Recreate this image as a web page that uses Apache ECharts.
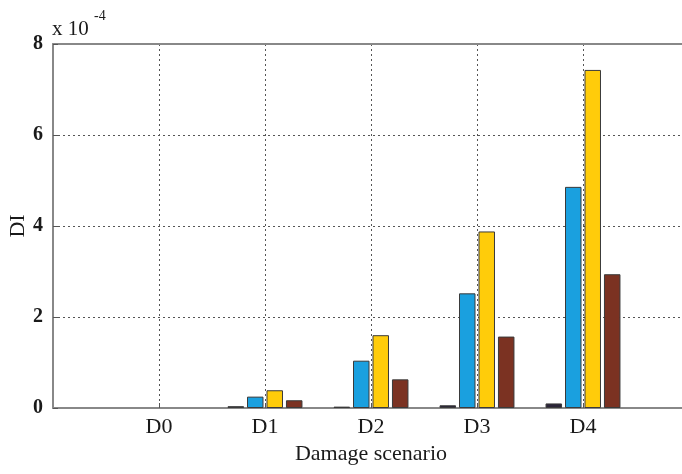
<!DOCTYPE html>
<html>
<head>
<meta charset="utf-8">
<script src="https://cdn.jsdelivr.net/npm/echarts@6/dist/echarts.min.js"></script>
<style>
  html, body { margin: 0; padding: 0; background: #fff; }
  #chart { width: 682px; height: 474px; }
</style>
</head>
<body>
<div id="chart"></div>
<script>
// Damage index per scenario, in units of 1e-4
const categories = ['D0', 'D1', 'D2', 'D3', 'D4'];
const seriesA = [0, 0.04, 0.03, 0.06, 0.10];
const seriesB = [0, 0.25, 1.04, 2.52, 4.86];
const seriesC = [0, 0.39, 1.60, 3.88, 7.43];
const seriesD = [0, 0.17, 0.63, 1.57, 2.94];
const yTicks = [0, 2, 4, 6, 8];

const serif = 'Liberation Serif, Times New Roman, serif';

// pad the axis with an empty slot on each side so the limits sit one step out
const axisCats = [''].concat(categories, ['']);
const inner = (i) => i > 0 && i < axisCats.length - 1;

const colors = ['#2a2438', '#1aa0df', '#ffcc0a', '#7b3222'];
const values = [seriesA, seriesB, seriesC, seriesD];

// zero-height bars get no outline so nothing shows on the baseline
const toData = (arr) => [null].concat(arr.map(v => (
  v === 0 ? { value: v, itemStyle: { borderWidth: 0 } } : v
)), [null]);

const gridLine = { show: true, lineStyle: { color: '#555', type: [2, 3], width: 1 } };

const chart = echarts.init(document.getElementById('chart'), null, { renderer: 'canvas' });
chart.setOption({
  animation: false,
  backgroundColor: '#fff',
  grid: { left: 53, top: 44, height: 364, width: 636, containLabel: false, outerBoundsMode: 'none' },
  xAxis: [{
    type: 'category',
    data: axisCats,
    boundaryGap: false,
    axisLine: { show: true, lineStyle: { color: '#888', width: 2 } },
    axisTick: { show: true, inside: true, length: 5, lineStyle: { color: '#555' }, interval: inner },
    axisLabel: { color: '#1a1a1a', fontFamily: serif, fontSize: 22, margin: 8 },
    splitLine: Object.assign({ interval: inner }, gridLine),
    name: 'Damage scenario',
    nameLocation: 'middle',
    nameGap: 34,
    nameTextStyle: { color: '#1a1a1a', fontFamily: serif, fontSize: 22 }
  }, {
    type: 'category',
    position: 'top',
    data: axisCats,
    boundaryGap: false,
    axisLine: { show: true, lineStyle: { color: '#888', width: 2 } },
    axisTick: { show: false },
    axisLabel: { show: false },
    splitLine: { show: false }
  }],
  yAxis: {
    type: 'value',
    min: yTicks[0],
    max: yTicks[yTicks.length - 1],
    interval: 2,
    axisLine: { show: true, lineStyle: { color: '#888', width: 2 } },
    axisTick: { show: true, inside: true, length: 5, lineStyle: { color: '#555' } },
    axisLabel: { color: '#1a1a1a', fontFamily: serif, fontSize: 20, fontWeight: 'bold', margin: 10 },
    splitLine: gridLine
  },
  graphic: [
    { type: 'text', x: 18, y: 226, rotation: Math.PI / 2,
      style: { text: 'DI', font: '22px ' + serif, fill: '#1a1a1a', align: 'center', verticalAlign: 'middle' } },
    { type: 'text', left: 52, top: 19, style: { text: 'x 10', font: '21px ' + serif, fill: '#1a1a1a' } },
    { type: 'text', left: 94, top: 9, style: { text: '-4', font: '14px ' + serif, fill: '#1a1a1a' } }
  ],
  series: values.map((v, i) => ({
    type: 'bar',
    xAxisIndex: 0,
    data: toData(v),
    barWidth: 16.5,
    barGap: '18%',
    itemStyle: { color: colors[i], borderColor: '#3a3a3a', borderWidth: 1 },
    z: 3
  }))
});
</script>
</body>
</html>
